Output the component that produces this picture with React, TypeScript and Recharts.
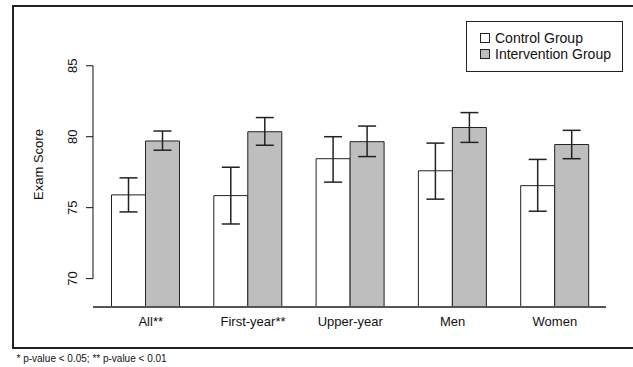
import {
  Bar,
  BarChart,
  ErrorBar,
  Label,
  ReferenceLine,
  XAxis,
  YAxis,
} from 'recharts';

const categories = ['All**', 'First-year**', 'Upper-year', 'Men', 'Women'];
const controlMean = [75.9, 75.85, 78.45, 77.6, 76.55];
const controlLow = [74.7, 73.85, 76.8, 75.6, 74.75];
const controlHigh = [77.1, 77.85, 80.0, 79.55, 78.4];
const interventionMean = [79.7, 80.35, 79.65, 80.65, 79.45];
const interventionLow = [79.05, 79.4, 78.6, 79.6, 78.45];
const interventionHigh = [80.4, 81.35, 80.75, 81.7, 80.45];
const yTicks = [70, 75, 80, 85];
const seriesNames = ['Control Group', 'Intervention Group'];
const footnote = '* p-value < 0.05; ** p-value < 0.01';

const FONT = '"Liberation Sans", Arial, Helvetica, sans-serif';
const INK = '#111';

const data = categories.map((name, i) => ({
  name,
  control: controlMean[i],
  controlErr: [controlMean[i] - controlLow[i], controlHigh[i] - controlMean[i]],
  intervention: interventionMean[i],
  interventionErr: [
    interventionMean[i] - interventionLow[i],
    interventionHigh[i] - interventionMean[i],
  ],
}));

// category label: base name centred under the group, asterisks hang off the right
function CategoryTick(props: any) {
  const { x, y, payload } = props;
  const label: string = payload.value;
  const base = label.replace(/\*+$/, '');
  const stars = label.slice(base.length);
  return (
    <text x={x} y={y + 19} textAnchor="middle" fontSize={13} fontFamily={FONT} fill={INK}>
      {stars && <tspan fillOpacity={0}>{stars}</tspan>}
      <tspan>{base}</tspan>
      {stars && <tspan>{stars}</tspan>}
    </text>
  );
}

function ScoreTick(props: any) {
  const { x, y, payload } = props;
  return (
    <text
      x={x}
      y={y}
      transform={`rotate(-90, ${x}, ${y})`}
      textAnchor="middle"
      fontSize={13}
      fontFamily={FONT}
      fill={INK}
    >
      {payload.value}
    </text>
  );
}

function LegendBox() {
  const fills = ['#ffffff', '#bebebe'];
  return (
    <div
      style={{
        position: 'absolute',
        left: 466,
        top: 21,
        width: 142,
        height: 41,
        border: '1px solid #222',
        paddingTop: 8,
        paddingLeft: 13,
        background: '#fff',
        fontFamily: FONT,
        fontSize: 14,
        color: INK,
      }}
    >
      {seriesNames.map((name, i) => (
        <div key={name} style={{ display: 'flex', alignItems: 'center', height: 16, lineHeight: '16px', whiteSpace: 'nowrap' }}>
          <span
            style={{
              display: 'inline-block',
              width: 8,
              height: 8,
              border: '1px solid #222',
              background: fills[i],
              marginRight: 5,
            }}
          />
          {name}
        </div>
      ))}
    </div>
  );
}

export default function App() {
  return (
    <div style={{ position: 'relative', width: 633, height: 367, background: '#fff', overflow: 'hidden' }}>
      <style>{'body{margin:0}'}</style>
      <div
        style={{
          position: 'absolute',
          left: 12,
          top: 5,
          width: 640,
          height: 340,
          borderTop: '2px solid #222',
          borderLeft: '2px solid #222',
          borderBottom: '2px solid #222',
        }}
      />
      <div style={{ position: 'absolute', left: 0, top: 0 }}>
        <BarChart
          width={633}
          height={367}
          data={data}
          margin={{ top: 9, right: 27, bottom: 30, left: 0 }}
          barSize={34}
          barGap={0}
        >
          <XAxis
            dataKey="name"
            padding={{ left: 1.5, right: 0 }}
            axisLine={{ stroke: '#555', strokeWidth: 2 }}
            tickLine={false}
            tickSize={0}
            tickMargin={0}
            height={30}
            tick={<CategoryTick />}
            interval={0}
          />
          <XAxis xAxisId="num" type="number" domain={[0, 1]} hide />
          <YAxis
            domain={[68, 89]}
            ticks={yTicks}
            width={93}
            axisLine={false}
            tickLine={{ stroke: INK }}
            tickSize={7}
            tickMargin={9}
            tick={<ScoreTick />}
          >
            <Label
              content={() => (
                <text
                  x={42.5}
                  y={164.5}
                  transform="rotate(-90, 42.5, 164.5)"
                  textAnchor="middle"
                  fontSize={13}
                  fontFamily={FONT}
                  fill={INK}
                >
                  Exam Score
                </text>
              )}
            />
          </YAxis>
          <ReferenceLine
            xAxisId="num"
            segment={[
              { x: 0, y: yTicks[0] },
              { x: 0, y: yTicks[yTicks.length - 1] },
            ]}
            stroke={INK}
            strokeWidth={1}
          />
          <Bar
            dataKey="control"
            name={seriesNames[0]}
            fill="#ffffff"
            stroke="#222"
            strokeWidth={1}
            isAnimationActive={false}
          >
            <ErrorBar dataKey="controlErr" width={9} stroke="#222" strokeWidth={1.5} />
          </Bar>
          <Bar
            dataKey="intervention"
            name={seriesNames[1]}
            fill="#bebebe"
            stroke="#222"
            strokeWidth={1}
            isAnimationActive={false}
          >
            <ErrorBar dataKey="interventionErr" width={9} stroke="#222" strokeWidth={1.5} />
          </Bar>
        </BarChart>
      </div>
      <LegendBox />
      <div
        style={{
          position: 'absolute',
          left: 16.5,
          top: 353,
          fontFamily: FONT,
          fontSize: 10,
          lineHeight: '11px',
          color: INK,
          whiteSpace: 'nowrap',
        }}
      >
        {footnote}
      </div>
    </div>
  );
}
